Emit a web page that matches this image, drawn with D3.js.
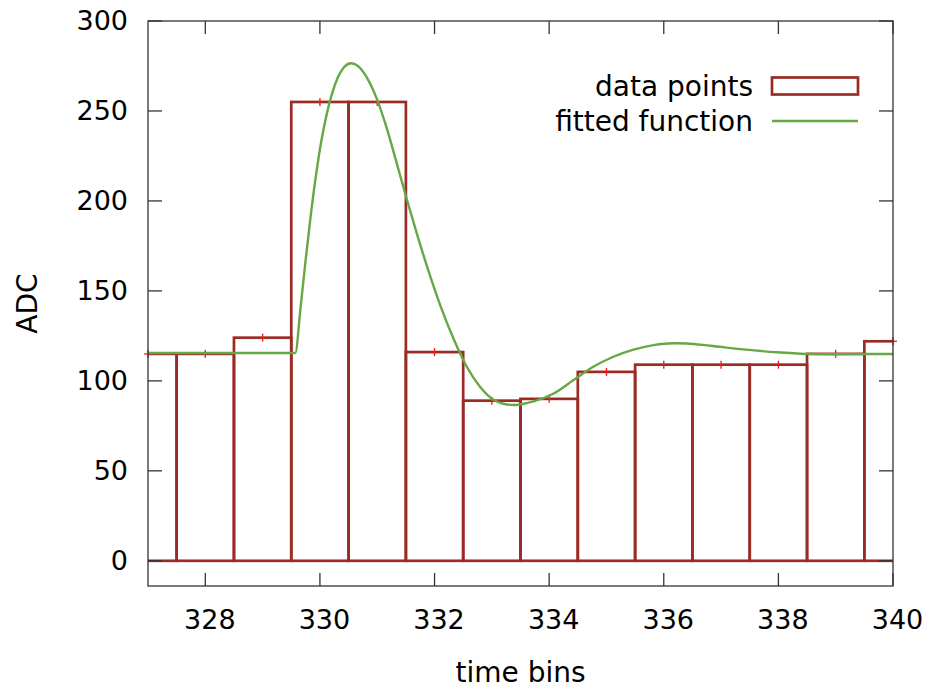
<!DOCTYPE html>
<html>
<head>
<meta charset="utf-8">
<script src="https://cdn.jsdelivr.net/npm/d3@7"></script>
<style>
  html, body { margin: 0; padding: 0; background: #fff; }
  text { font-family: "DejaVu Sans", sans-serif; fill: #000; }
</style>
</head>
<body>
<script>
// ---- data ----
const bins = [327, 328, 329, 330, 331, 332, 333, 334, 335, 336, 337, 338, 339, 340];
const adc  = [115, 115, 124, 255, 255, 116, 89, 90, 105, 109, 109, 109, 115, 122];

const fitX = [327, 328, 329, 329.57, 329.66, 329.75, 329.84, 329.93, 330.02, 330.11, 330.21, 330.31, 330.42, 330.54,
              330.68, 330.83, 330.99, 331.17, 331.34, 331.52, 331.69, 331.87, 332.10, 332.33, 332.56, 332.80,
              333.03, 333.20, 333.38, 333.56, 333.73, 334.08, 334.42, 334.77, 335.12, 335.47, 335.82, 336.17, 336.40,
              336.81, 337.39, 337.97, 338.49, 338.96, 339.54, 340];
const fitY = [115.5, 115.5, 115.5, 115.5, 140, 167, 192, 214, 232.5, 247, 259.5, 268.5, 274.3, 276.5,
              274.5, 268, 257, 240, 221, 200.5, 182, 163.5, 142, 123.5, 108, 96.5,
              89.5, 87.3, 86.6, 87.3, 88.6, 93, 100.3, 107.8, 113.4, 117.4, 119.9, 120.9, 120.8,
              119.5, 117.5, 115.9, 115, 114.8, 114.9, 114.9];

const xTicks = [328, 330, 332, 334, 336, 338, 340];
const yTicks = [0, 50, 100, 150, 200, 250, 300];

const legendLabels = ["data points", "fitted function"];
const xLabel = "time bins";
const yLabel = "ADC";

// ---- layout ----
const W = 929, H = 689;
const L = 148, R = 893, T = 21, B = 586;
const boxColor = "#9b2b25", fitColor = "#67a845", markColor = "#ff1a1a";

const svg = d3.select("body").append("svg").attr("width", W).attr("height", H);

const x = d3.scaleLinear().domain([327, 340]).range([L, R]);
const y = d3.scaleLinear().domain([-14, 300]).range([B, T]);

svg.append("clipPath").attr("id", "clip")
  .append("rect").attr("x", L).attr("y", T).attr("width", R - L).attr("height", B - T);

// red point markers: horizontal arms (behind boxes)
const marks = svg.append("g");
bins.forEach((b, i) => {
  const cx = x(b), cy = y(adc[i]);
  marks.append("line").attr("x1", cx - 4).attr("x2", cx + 4).attr("y1", cy).attr("y2", cy)
    .attr("stroke", markColor).attr("stroke-width", 1.3);
});

// boxes
const boxes = svg.append("g").attr("clip-path", "url(#clip)");
boxes.selectAll("rect").data(bins).join("rect")
  .attr("x", d => x(d - 0.5))
  .attr("width", d => x(d + 0.5) - x(d - 0.5))
  .attr("y", (d, i) => y(adc[i]))
  .attr("height", (d, i) => y(0) - y(adc[i]))
  .attr("fill", "none")
  .attr("stroke", boxColor)
  .attr("stroke-width", 2.7);

// vertical parts of markers on top
const vmarks = svg.append("g");
bins.forEach((b, i) => {
  const cx = x(b), cy = y(adc[i]);
  vmarks.append("line").attr("x1", cx).attr("x2", cx).attr("y1", cy - 4).attr("y2", cy + 4)
    .attr("stroke", markColor).attr("stroke-width", 1.4);
});

// fitted curve
const fitData = fitX.map((v, i) => [v, fitY[i]]);
svg.append("path").datum(fitData)
  .attr("clip-path", "url(#clip)")
  .attr("d", d3.line().x(d => x(d[0])).y(d => y(d[1])).curve(d3.curveMonotoneX))
  .attr("fill", "none").attr("stroke", fitColor).attr("stroke-width", 2.4);

// border
svg.append("rect").attr("x", L).attr("y", T).attr("width", R - L).attr("height", B - T)
  .attr("fill", "none").attr("stroke", "#333").attr("stroke-width", 1.3);

// ticks (inward, mirrored)
const tk = svg.append("g").attr("stroke", "#333").attr("stroke-width", 1.3);
xTicks.forEach(t => {
  tk.append("line").attr("x1", x(t)).attr("x2", x(t)).attr("y1", B).attr("y2", B - 13);
  tk.append("line").attr("x1", x(t)).attr("x2", x(t)).attr("y1", T).attr("y2", T + 13);
});
yTicks.forEach(t => {
  tk.append("line").attr("x1", L).attr("x2", L + 14).attr("y1", y(t)).attr("y2", y(t));
  tk.append("line").attr("x1", R).attr("x2", R - 14).attr("y1", y(t)).attr("y2", y(t));
});

// tick labels
svg.append("g").selectAll("text").data(xTicks).join("text")
  .attr("x", d => x(d) + 4.5).attr("y", B + 34).attr("dy", "0.35em")
  .attr("text-anchor", "middle").attr("font-size", 27).text(d => d);
svg.append("g").selectAll("text").data(yTicks).join("text")
  .attr("x", L - 20).attr("y", d => y(d)).attr("dy", "0.35em")
  .attr("text-anchor", "end").attr("font-size", 27).text(d => d);

// axis titles
svg.append("text").attr("x", (L + R) / 2).attr("y", 672).attr("dy", "0.35em")
  .attr("text-anchor", "middle").attr("font-size", 28).text(xLabel);
svg.append("text").attr("transform", `translate(27,${(T + B) / 2}) rotate(-90)`)
  .attr("dy", "0.35em").attr("text-anchor", "middle").attr("font-size", 28).text(yLabel);

// legend
const lg = svg.append("g");
lg.append("text").attr("x", 753).attr("y", 86).attr("dy", "0.35em")
  .attr("text-anchor", "end").attr("font-size", 28).text(legendLabels[0]);
lg.append("rect").attr("x", 772).attr("y", 77.5).attr("width", 86).attr("height", 17)
  .attr("fill", "none").attr("stroke", boxColor).attr("stroke-width", 2.7);
lg.append("text").attr("x", 753).attr("y", 121).attr("dy", "0.35em")
  .attr("text-anchor", "end").attr("font-size", 28).text(legendLabels[1]);
lg.append("line").attr("x1", 772).attr("x2", 858).attr("y1", 121).attr("y2", 121)
  .attr("stroke", fitColor).attr("stroke-width", 2.4);
</script>
</body>
</html>
